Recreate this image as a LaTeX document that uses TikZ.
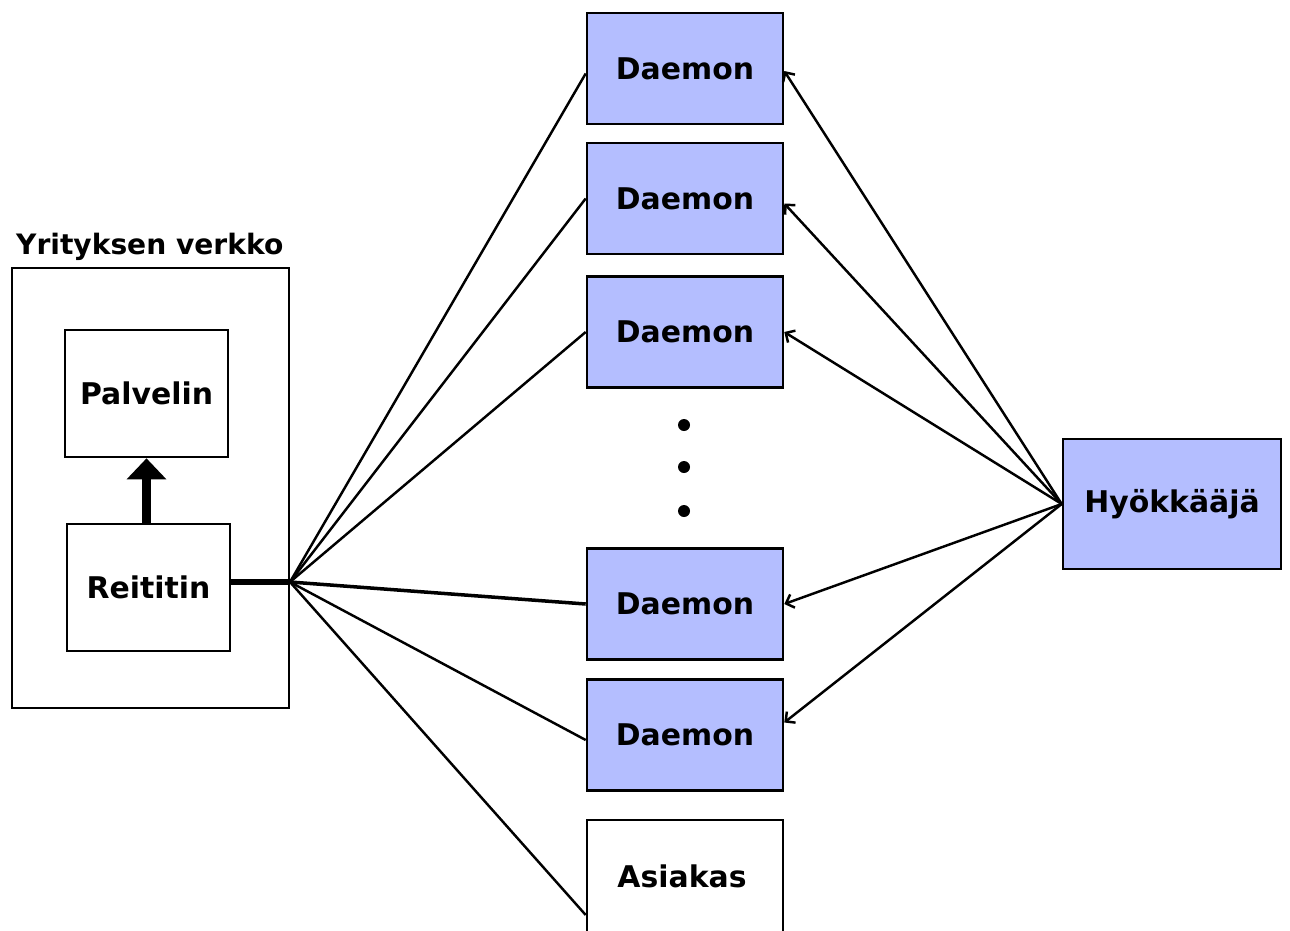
\documentclass[tikz,border=0pt]{standalone}
\usepackage{fontspec}
\setmainfont{DejaVu Sans}
\usetikzlibrary{arrows.meta}
\definecolor{daemonblue}{RGB}{180,190,255}
\tikzset{
  box/.style={draw, line width=1.5pt, inner sep=0pt, minimum width=3.92cm, minimum height=2.22cm, font=\fontsize{17}{20}\selectfont\bfseries},
  daemon/.style={box, fill=daemonblue},
  link/.style={line width=1.4pt},
  attack/.style={line width=1.4pt, -{Straight Barb[length=4pt,width=8pt]}}
}
\begin{document}
\begin{tikzpicture}[x=0.02cm, y=-0.02cm] %%DDoS picture
\clip (0,0) rectangle (1290,930);
\useasboundingbox (0,0) rectangle (1290,930);
%% company network
\draw[line width=1.5pt] (12,268) rectangle (289,708);
\node[anchor=base west, font=\fontsize{16}{20}\selectfont\bfseries] (net) at (10,254) {Yrityksen verkko};
\node[box, minimum width=3.26cm, minimum height=2.54cm] (pal) at (146.5,393.5) {Palvelin};
\node[box, minimum width=3.26cm, minimum height=2.54cm] (rei) at (148.5,587.5) {Reititin};
\draw[line width=5.5pt, -{Triangle[length=12pt,width=22pt]}] (rei.north -| pal.south) -- (pal.south);
\coordinate (hub) at (290,582);
\draw[line width=3.4pt] (rei.east |- hub) -- (hub);
%% daemons
\node[daemon] (d1) at (685,68.5) {Daemon};
\node[daemon] (d2) at (685,198.5) {Daemon};
\node[daemon] (d3) at (685,332) {Daemon};
\node[daemon] (d4) at (685,604) {Daemon};
\node[daemon] (d5) at (685,735) {Daemon};
\node[box, minimum height=2.4cm] (asi) at (685,880) {};
\node[font=\fontsize{17}{20}\selectfont\bfseries] (asit) at (682,876) {Asiakas};
\fill (684,425) circle (6);
\fill (684,467) circle (6);
\fill (684,511) circle (6);
\node[daemon, minimum width=4.36cm, minimum height=2.6cm] (hyo) at (1172,504) {Hyökkääjä};
%% router to daemons
\draw[link] (hub) -- ([yshift=-0.1cm]d1.west);
\draw[link] (hub) -- (d2.west);
\draw[link] (hub) -- (d3.west);
\draw[link, line width=2pt] (hub) -- (d4.west);
\draw[link] (hub) -- ([yshift=-0.1cm]d5.west);
\draw[link] (hub) -- ([yshift=-0.7cm]asi.west);
%% attacker to daemons
\draw[attack] (hyo.west) -- ([yshift=-0.05cm]d1.east);
\draw[attack] (hyo.west) -- ([yshift=-0.1cm]d2.east);
\draw[attack] (hyo.west) -- (d3.east);
\draw[attack] (hyo.west) -- (d4.east);
\draw[attack] (hyo.west) -- ([yshift=0.25cm]d5.east);
\end{tikzpicture}
\end{document}
